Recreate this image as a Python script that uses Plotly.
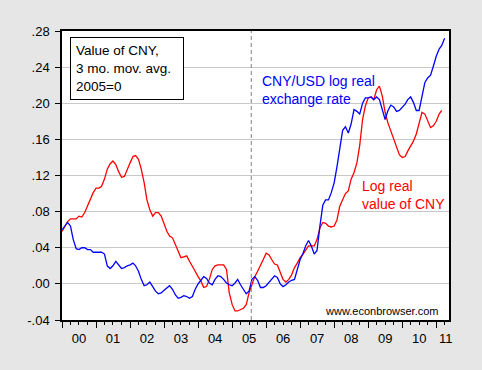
import pandas as pd
import plotly.graph_objects as go

# ---- data (monthly, 3-month moving average, 2005=0) ----
start_month = "2000-01-01"
cny_real_value = [
    0.058, 0.064, 0.069, 0.072, 0.072, 0.072, 0.075, 0.074, 0.079, 0.086, 0.093, 0.101,
    0.106, 0.106, 0.108, 0.116, 0.127, 0.133, 0.136, 0.132, 0.124, 0.118, 0.119, 0.127,
    0.134, 0.141, 0.142, 0.138, 0.127, 0.112, 0.093, 0.082, 0.075, 0.079, 0.079, 0.075,
    0.066, 0.058, 0.053, 0.051, 0.044, 0.036, 0.029, 0.030, 0.031, 0.025, 0.020, 0.014,
    0.008, 0.003, -0.004, -0.003, 0.005, 0.016, 0.020, 0.021, 0.021, 0.021, 0.016, -0.010,
    -0.023, -0.030, -0.030, -0.028, -0.027, -0.023, -0.010, -0.001, 0.008, 0.014, 0.020, 0.027,
    0.034, 0.032, 0.027, 0.022, 0.021, 0.012, 0.005, 0.002, 0.005, 0.010, 0.018, 0.023,
    0.029, 0.033, 0.037, 0.042, 0.042, 0.042, 0.049, 0.062, 0.068, 0.067, 0.064, 0.063,
    0.064, 0.071, 0.086, 0.093, 0.100, 0.103, 0.116, 0.123, 0.134, 0.153, 0.182, 0.197,
    0.206, 0.207, 0.204, 0.215, 0.219, 0.208, 0.190, 0.178, 0.169, 0.160, 0.153, 0.143,
    0.140, 0.141, 0.147, 0.153, 0.158, 0.166, 0.177, 0.190, 0.188, 0.180, 0.173, 0.175,
    0.180, 0.188, 0.192,
]
cny_usd_real_rate = [
    0.060, 0.064, 0.068, 0.064, 0.049, 0.039, 0.038, 0.040, 0.040, 0.038, 0.038, 0.035,
    0.035, 0.035, 0.035, 0.033, 0.020, 0.017, 0.020, 0.025, 0.021, 0.017, 0.018, 0.020,
    0.021, 0.023, 0.020, 0.014, 0.005, -0.002, -0.001, 0.002, -0.003, -0.008, -0.011, -0.010,
    -0.007, -0.004, -0.002, -0.006, -0.012, -0.016, -0.015, -0.013, -0.014, -0.016, -0.014, -0.006,
    0.000, 0.004, 0.008, 0.006, 0.001, -0.001, 0.005, 0.009, 0.008, 0.005, 0.001, -0.001,
    -0.002, 0.001, 0.005, -0.001, -0.006, -0.011, -0.008, 0.005, 0.008, 0.004, -0.004, -0.004,
    -0.002, 0.002, 0.005, 0.009, 0.007, 0.000, -0.003, -0.001, 0.002, 0.004, 0.005, 0.016,
    0.027, 0.034, 0.042, 0.048, 0.042, 0.033, 0.037, 0.064, 0.087, 0.093, 0.093, 0.101,
    0.112, 0.130, 0.152, 0.170, 0.174, 0.167, 0.177, 0.193, 0.191, 0.188, 0.200, 0.206,
    0.206, 0.207, 0.204, 0.207, 0.204, 0.193, 0.182, 0.192, 0.198, 0.196, 0.191, 0.192,
    0.196, 0.199, 0.204, 0.207, 0.201, 0.192, 0.192, 0.208, 0.223, 0.228, 0.231, 0.241,
    0.252, 0.260, 0.264, 0.272,
]
year_labels = ["00", "01", "02", "03", "04", "05", "06", "07", "08", "09", "10", "11"]
y_tick_vals = [-0.04, 0.0, 0.04, 0.08, 0.12, 0.16, 0.20, 0.24, 0.28]
y_tick_text = ["-.04", ".00", ".04", ".08", ".12", ".16", ".20", ".24", ".28"]
reform_date = "2005-07-25"
x_range = ["2000-01-01", "2011-05-18"]

dates_red = pd.date_range(start_month, periods=len(cny_real_value), freq="MS")
dates_blue = pd.date_range(start_month, periods=len(cny_usd_real_rate), freq="MS")

year_starts = [f"{2000 + i}-01-01" for i in range(12)]
label_pos = [f"{2000 + i}-07-02" for i in range(11)] + ["2011-04-14"]
quarter_ticks = [d.strftime("%Y-%m-%d") for d in pd.date_range("2000-01-01", "2011-04-01", freq="QS")]

FONT = "Liberation Sans, Arial, sans-serif"

fig = go.Figure()
fig.add_trace(go.Scatter(x=dates_red, y=cny_real_value, mode="lines",
                         line=dict(color="#ff0000", width=1.3), showlegend=False,
                         hoverinfo="skip"))
fig.add_trace(go.Scatter(x=dates_blue, y=cny_usd_real_rate, mode="lines",
                         line=dict(color="#0000ff", width=1.3), showlegend=False,
                         hoverinfo="skip"))
# invisible trace on secondary x axis (major year ticks)
fig.add_trace(go.Scatter(x=[x_range[0]], y=[None], xaxis="x2", mode="lines",
                         showlegend=False, hoverinfo="skip"))

fig.update_layout(
    template="none",
    width=482, height=370,
    margin=dict(l=62, r=33, t=31, b=50, autoexpand=False),
    paper_bgcolor="#e6e6e6",
    plot_bgcolor="#ffffff",
    font=dict(family=FONT, size=13, color="#000000"),
    xaxis=dict(
        type="date", range=x_range, automargin=False,
        tickmode="array", tickvals=label_pos, ticktext=year_labels,
        ticks="outside", ticklen=6, tickcolor="rgba(0,0,0,0)",
        showgrid=False, zeroline=False,
        showline=True, linecolor="#000000", linewidth=1.5, mirror=True,
        minor=dict(tickmode="array", tickvals=quarter_ticks, ticks="outside",
                   ticklen=3, tickcolor="#000000", tickwidth=1, showgrid=False),
        tickfont=dict(size=13),
    ),
    xaxis2=dict(
        type="date", range=x_range, overlaying="x", anchor="y", side="bottom",
        automargin=False,
        tickmode="array", tickvals=year_starts, showticklabels=False,
        ticks="outside", ticklen=7, tickcolor="#000000", tickwidth=1,
        showgrid=False, zeroline=False, showline=False,
    ),
    yaxis=dict(
        range=[-0.04, 0.28], automargin=False,
        tickmode="array", tickvals=y_tick_vals, ticktext=y_tick_text,
        ticks="outside", ticklen=5, tickcolor="#000000", ticklabelstandoff=3,
        showgrid=True, gridcolor="#c8c8c8", gridwidth=1, zeroline=False,
        showline=True, linecolor="#000000", linewidth=1.5, mirror=True,
        tickfont=dict(size=13),
    ),
    shapes=[dict(type="line", xref="x", yref="paper", x0=reform_date, x1=reform_date,
                 y0=0, y1=1, line=dict(color="#808080", width=1, dash="4px,3px"))],
    annotations=[
        dict(xref="paper", yref="paper", x=0.0214, y=0.978, xanchor="left", yanchor="top",
             text="Value of CNY,<br>3 mo. mov. avg.<br>2005=0", showarrow=False, align="left",
             width=102, height=51,
             bordercolor="#000000", borderwidth=1, borderpad=5, bgcolor="#ffffff",
             font=dict(size=13.5, color="#000000")),
        dict(xref="paper", yref="paper", x=0.512, y=0.862, xanchor="left", yanchor="top",
             text="CNY/USD log real<br>exchange rate", showarrow=False, align="left",
             font=dict(size=14, color="#0000ff")),
        dict(xref="paper", yref="paper", x=0.771, y=0.50, xanchor="left", yanchor="top",
             text="Log real<br>value of CNY", showarrow=False, align="left",
             font=dict(size=14, color="#ff0000")),
        dict(xref="paper", yref="paper", x=0.979, y=0.032, xanchor="right", yanchor="middle",
             text="www.econbrowser.com", showarrow=False,
             font=dict(size=11, color="#000000")),
    ],
)

fig.write_html("out.html", config={"displayModeBar": False},
               post_script="document.body.style.margin='0';document.body.style.padding='0';")
